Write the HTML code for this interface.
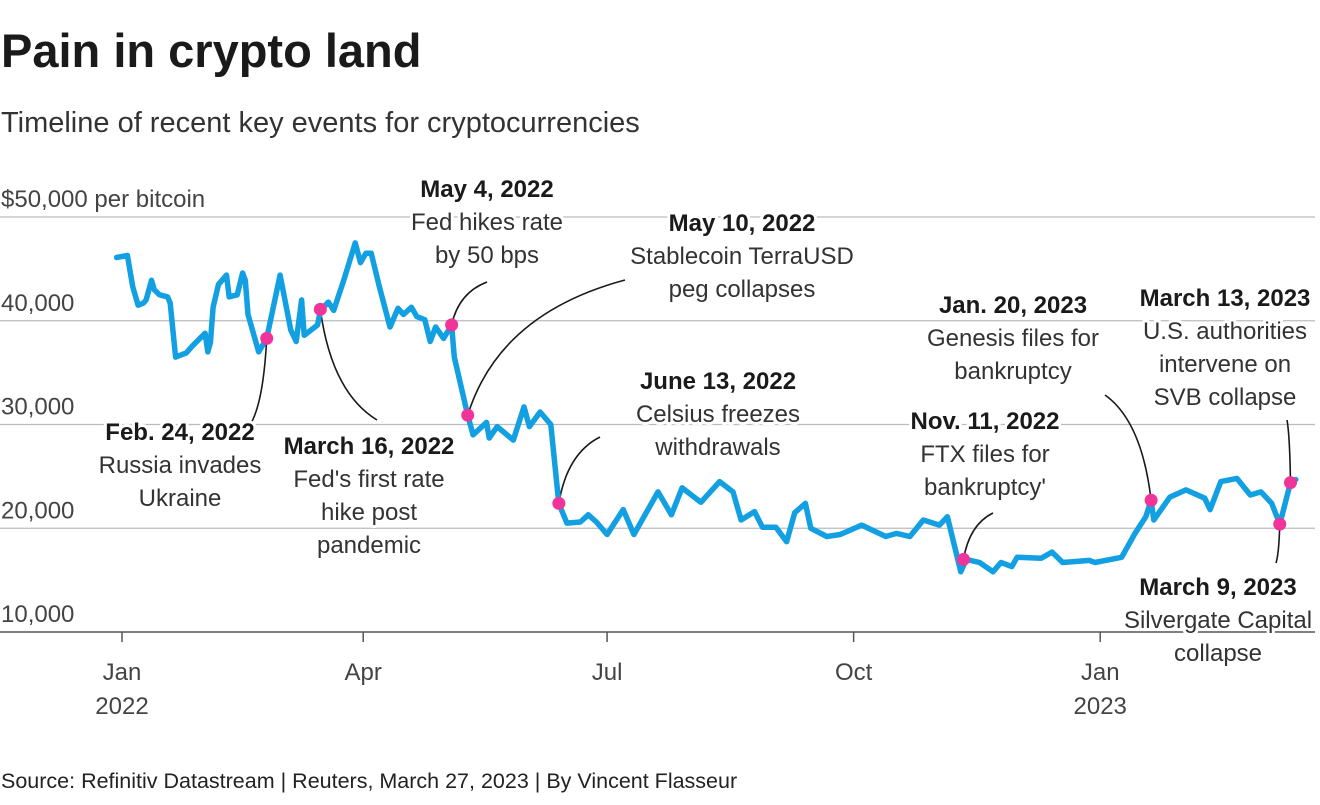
<!DOCTYPE html>
<html><head><meta charset="utf-8"><style>
html,body{margin:0;padding:0;background:#fff;}
body{width:1320px;height:800px;overflow:hidden;font-family:"Liberation Sans",sans-serif;}
svg text{font-family:"Liberation Sans",sans-serif;}
.ann{font-size:24px;fill:#333;text-anchor:middle;paint-order:stroke;stroke:#fff;stroke-width:6px;stroke-linejoin:round;}
.ann .b{font-weight:bold;fill:#1a1a1a;}
.tick{font-size:24px;fill:#444;}
</style></head><body>
<svg id="chart" width="1320" height="800" xmlns="http://www.w3.org/2000/svg">
<text x="1" y="67" font-size="47" font-weight="bold" fill="#1a1a1a">Pain in crypto land</text>
<text x="1" y="132" font-size="29" fill="#333">Timeline of recent key events for cryptocurrencies</text>
<g id="grid"></g>
<g id="xaxis"></g>
<g id="leaders" fill="none" stroke="#1a1a1a" stroke-width="1.6"></g>
<path id="line" fill="none" stroke="#12a0e3" stroke-width="5.5" stroke-linejoin="round" stroke-linecap="round"></path>
<g id="dots"></g>
<g id="anns"></g>
<text x="1" y="788" font-size="21.5" fill="#222">Source: Refinitiv Datastream | Reuters, March 27, 2023 | By Vincent Flasseur</text>
</svg>
<script>
// days since Jan 1, 2022
const days = [-2,2,4,6,8,9,11,12,14,17,18,20,24,26,31,32,33,34,36,39,40,43,45,46,47,51,54,59,63,65,67,68,73,74,77,79,83,87,89,91,93,96,100,103,105,108,110,113,115,117,120,123,124,129,131,136,137,140,146,150,152,156,160,163,166,171,174,177,181,187,191,200,205,209,216,223,228,231,236,239,244,248,251,255,257,263,268,276,285,289,294,299,305,308,313,315,320,325,328,332,334,343,347,351,361,363,373,378,382,384,385,391,397,404,406,410,416,421,425,429,432,436,438];
const prices = [46100,46300,43300,41500,41700,42000,43900,43000,42500,42300,41700,36500,36900,37500,38800,37000,37900,41300,43500,44400,42300,42500,44600,43900,40600,37000,38300,44400,39100,38000,42000,38600,39600,41000,41800,41000,44100,47500,45600,46500,46500,43300,39400,41200,40600,41300,40400,40100,38000,39400,38300,39600,36500,30900,29000,30200,28700,29800,28500,31700,29800,31200,30000,22400,20500,20600,21300,20600,19400,21800,19400,23500,21300,23900,22500,24500,23500,20800,21600,20100,20100,18700,21500,22400,20000,19200,19400,20300,19200,19500,19200,20800,20300,21100,15800,17000,16700,15800,16700,16300,17200,17100,17700,16700,16900,16700,17200,19500,21100,22700,20800,23000,23700,22900,21800,24500,24800,23200,23500,22400,20400,24400,24700];
const yTicks = [10000,20000,30000,40000,50000];
const yTickLabels = ["10,000","20,000","30,000","40,000","$50,000 per bitcoin"];
const xTickDays = [0,90,181,273,365];
const xTickLine1 = ["Jan","Apr","Jul","Oct","Jan"];
const xTickLine2 = ["2022","","","","2023"];
const eventDays = [54,74,123,129,163,314,384,432,436];
const eventPrices = [38300,41100,39600,30900,22400,17000,22700,20400,24400];
const eventDates = ["Feb. 24, 2022","March 16, 2022","May 4, 2022","May 10, 2022","June 13, 2022","Nov. 11, 2022","Jan. 20, 2023","March 9, 2023","March 13, 2023"];
const eventText = [["Russia invades","Ukraine"],["Fed's first rate","hike post","pandemic"],["Fed hikes rate","by 50 bps"],["Stablecoin TerraUSD","peg collapses"],["Celsius freezes","withdrawals"],["FTX files for","bankruptcy'"],["Genesis files for","bankruptcy"],["Silvergate Capital","collapse"],["U.S. authorities","intervene on","SVB collapse"]];
// layout for annotations (not data): textX, textY, leaderEndX, leaderEndY
const annLayout = [[180,432,250,425],[369,446,377,420],[487,189,487,282],[742,223,625,280],[718,381,600,437],[985,421,993,513],[1013,305,1105,395],[1218,587,1276,563],[1225,298,1287,420]];

const NS="http://www.w3.org/2000/svg";
const X = d => 122 + d*2.68;
const Y = v => 632 - (v-10000)*0.010375;
function mk(tag, attrs, parent){const e=document.createElementNS(NS,tag);for(const k in attrs)e.setAttribute(k,attrs[k]);parent.appendChild(e);return e;}

const grid=document.getElementById('grid');
yTicks.forEach((t,i)=>{
  const l=mk('line',{x1:0,x2:1315,y1:Y(t),y2:Y(t),stroke:i===0?'#555':'#bbb','stroke-width':i===0?1.5:1.3},grid);
  
  
  const tx=mk('text',{x:1,y:Y(t)-10,class:'tick'},grid);
  tx.textContent=yTickLabels[i];
  
  
});
const xa=document.getElementById('xaxis');
xTickDays.forEach((d,i)=>{
  const l=mk('line',{x1:X(d),x2:X(d),y1:632,y2:642,stroke:'#555','stroke-width':1.5},xa);
  
  
  const t1=mk('text',{x:X(d),y:680,class:'tick','text-anchor':'middle'},xa);
  t1.textContent=xTickLine1[i];
  
  
  if(xTickLine2[i]){const t2=mk('text',{x:X(d),y:714,class:'tick','text-anchor':'middle'},xa);t2.textContent=xTickLine2[i];
  
  }
});
document.getElementById('line').setAttribute('d',days.map((d,i)=>(i?'L':'M')+X(d).toFixed(1)+','+Y(prices[i]).toFixed(1)).join(''));

const dots=document.getElementById('dots'),anns=document.getElementById('anns'),lead=document.getElementById('leaders');
eventDays.forEach((d,i)=>{
  const cx=X(d),cy=Y(eventPrices[i]);
  const L=annLayout[i];
  const ex=L[2],ey=L[3];
  const ctrlX = cx + (ex-cx)*0.2, ctrlY = cy + (ey-cy)*0.75;
  const p=mk('path',{d:`M${cx},${cy} Q${ctrlX},${ctrlY} ${ex},${ey}`},lead);
  
  
  const c=mk('circle',{cx:cx,cy:cy,r:6.5,fill:'#f0359a'},dots);
  
  
  const g=mk('text',{class:'ann',x:L[0],y:L[1]+8},anns);
  
  
  const b=mk('tspan',{class:'b',x:L[0],dy:0},g);b.textContent=eventDates[i];
  eventText[i].forEach(s=>{const t=mk('tspan',{x:L[0],dy:33},g);t.textContent=s;});
});
</script>
</body></html>
